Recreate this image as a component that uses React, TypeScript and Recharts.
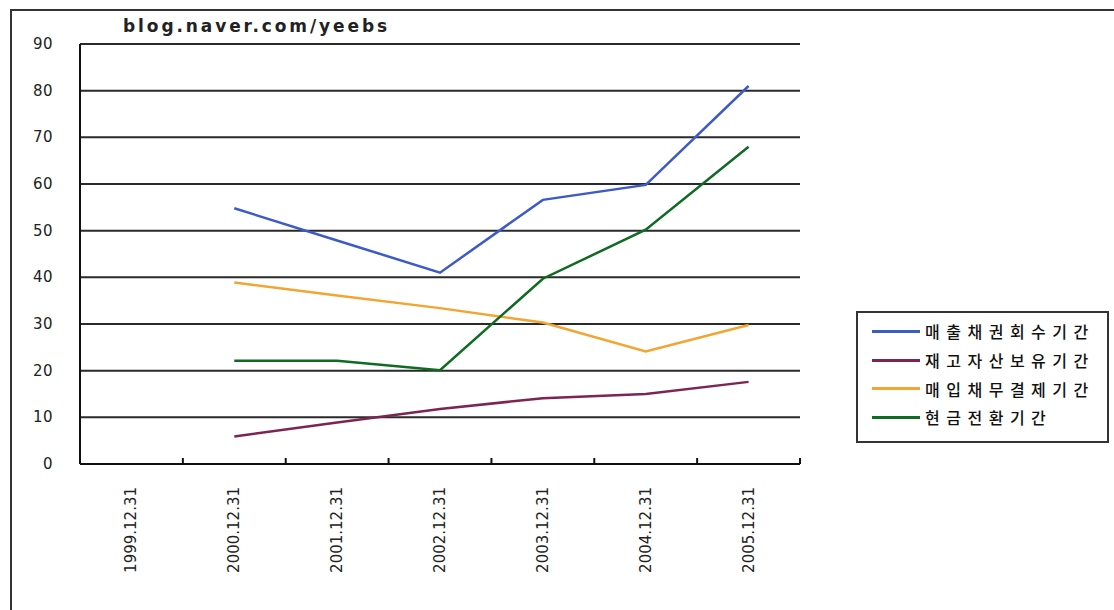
import React from "react";
import { LineChart, Line, XAxis, YAxis, CartesianGrid } from "recharts";

// Period-end dates (category axis)
const dates = [
  "1999.12.31",
  "2000.12.31",
  "2001.12.31",
  "2002.12.31",
  "2003.12.31",
  "2004.12.31",
  "2005.12.31",
];

// Days per metric; 1999 has no figures
const receivableDays = [null, 54.8, 47.9, 41.0, 56.6, 59.8, 81.0];
const inventoryDays = [null, 5.9, 8.9, 11.8, 14.1, 15.0, 17.6];
const payableDays = [null, 38.9, 36.1, 33.4, 30.3, 24.1, 29.8];
const cashCycleDays = [null, 22.1, 22.1, 20.1, 39.7, 50.2, 68.0];

const yTicks = [0, 10, 20, 30, 40, 50, 60, 70, 80, 90];

const series = [
  { key: "receivable", name: "매출채권회수기간", color: "#3d5bc6", values: receivableDays },
  { key: "inventory", name: "재고자산보유기간", color: "#7e2452", values: inventoryDays },
  { key: "payable", name: "매입채무결제기간", color: "#f2a631", values: payableDays },
  { key: "cash", name: "현금전환기간", color: "#0f6a22", values: cashCycleDays },
];

const data = dates.map((d, i) => {
  const row: Record<string, string | number | null> = { date: d };
  series.forEach((s) => {
    row[s.key] = s.values[i];
  });
  return row;
});

// Layout
const W = 1114;
const H = 610;
const PLOT_LEFT = 80;
const PLOT_RIGHT = 800;
const PLOT_TOP = 44;
const PLOT_BOTTOM = 464;
const BAND = (PLOT_RIGHT - PLOT_LEFT) / dates.length;
const LABEL_FONT = "'DejaVu Sans', Arial, sans-serif";

const XTick = (props: any) => {
  const { x, payload, index } = props;
  const left = x - BAND / 2;
  const right = x + BAND / 2;
  return (
    <g>
      <line x1={left} x2={left} y1={PLOT_BOTTOM} y2={PLOT_BOTTOM - 6} stroke="#111" strokeWidth={2} />
      {index === dates.length - 1 && (
        <line x1={right} x2={right} y1={PLOT_BOTTOM} y2={PLOT_BOTTOM - 6} stroke="#111" strokeWidth={2} />
      )}
      <text
        x={x}
        y={PLOT_BOTTOM + 23}
        transform={`rotate(-90, ${x}, ${PLOT_BOTTOM + 23})`}
        textAnchor="end"
        dominantBaseline="central"
        fontFamily={LABEL_FONT}
        fontSize={15}
        fill="#222"
      >
        {payload.value}
      </text>
    </g>
  );
};

const YTick = (props: any) => {
  const { y, payload } = props;
  return (
    <text
      x={PLOT_LEFT - 27}
      y={y}
      textAnchor="end"
      dominantBaseline="central"
      fontFamily={LABEL_FONT}
      fontSize={15}
      letterSpacing={0.5}
      fill="#222"
    >
      {payload.value}
    </text>
  );
};

const LegendBox = () => (
  <div
    style={{
      position: "absolute",
      left: 856,
      top: 311,
      width: 249,
      height: 124,
      border: "2px solid #333",
      background: "#fff",
      boxSizing: "content-box",
      paddingTop: 4,
    }}
  >
    {series.map((s) => (
      <div key={s.key} style={{ display: "flex", alignItems: "center", height: 28.7 }}>
        <div style={{ width: 48, height: 3, background: s.color, marginLeft: 14 }} />
        <span
          style={{
            marginLeft: 5,
            fontFamily: "'Noto Sans CJK KR', sans-serif",
            fontSize: 16,
            fontWeight: 500,
            letterSpacing: 6.5,
            color: "#111",
            lineHeight: "20px",
          }}
        >
          {s.name}
        </span>
      </div>
    ))}
  </div>
);

export default function App() {
  return (
    <div style={{ position: "absolute", left: 0, top: 0, width: W, height: H, background: "#fff", overflow: "hidden" }}>
      {/* frame */}
      <div
        style={{
          position: "absolute",
          left: 10,
          top: 9,
          width: W,
          height: H,
          borderTop: "2px solid #333",
          borderLeft: "2px solid #333",
        }}
      />
      <div
        style={{
          position: "absolute",
          left: 123,
          top: 16,
          fontFamily: LABEL_FONT,
          fontWeight: "bold",
          fontSize: 17,
          letterSpacing: 2.9,
          color: "#222",
          lineHeight: "20px",
        }}
      >
        blog.naver.com/yeebs
      </div>
      <div style={{ position: "absolute", left: 0, top: 0 }}>
        <LineChart
          width={W}
          height={H}
          data={data}
          margin={{ top: PLOT_TOP, right: W - PLOT_RIGHT, bottom: 46, left: 20 }}
        >
          <CartesianGrid horizontal vertical={false} stroke="#2a2a2a" strokeWidth={2} />
          <XAxis
            dataKey="date"
            type="category"
            interval={0}
            padding={{ left: BAND / 2, right: BAND / 2 }}
            height={H - PLOT_BOTTOM - 46}
            axisLine={{ stroke: "#111", strokeWidth: 2 }}
            tickLine={false}
            tick={<XTick />}
          />
          <YAxis
            type="number"
            domain={[0, 90]}
            ticks={yTicks}
            width={PLOT_LEFT - 20}
            axisLine={{ stroke: "#111", strokeWidth: 2 }}
            tickLine={false}
            tick={<YTick />}
          />
          {series.map((s) => (
            <Line
              key={s.key}
              dataKey={s.key}
              name={s.name}
              stroke={s.color}
              strokeWidth={2.5}
              dot={false}
              activeDot={false}
              isAnimationActive={false}
              connectNulls={false}
            />
          ))}
        </LineChart>
      </div>
      <LegendBox />
    </div>
  );
}
